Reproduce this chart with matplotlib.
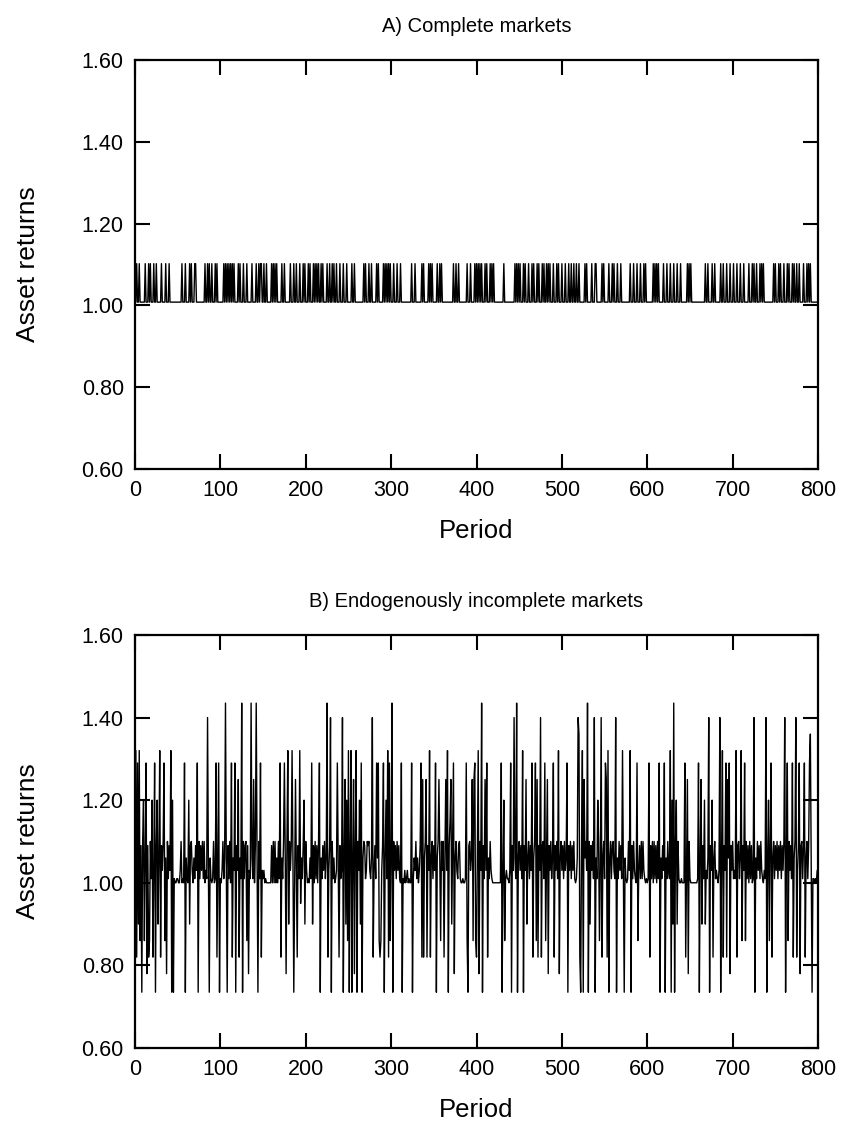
import numpy as np
import matplotlib
matplotlib.use("Agg")
import matplotlib.pyplot as plt

plt.rcParams['font.family'] = ['Liberation Sans', 'DejaVu Sans']

# Panel A: one character per period, 0 = low state, 1 = high state
complete_codes = (
    "0010010000 0010001010 0010010000 0100001000 1000000000 "
    "0000010001 0000101000 1100000000 0010010100 1000101000 "
    "0000101010 1010101000 0101000100 0100000100 0010010110 "
    "0100100000 1010101000 0010010000 0010001001 0001000101 "
    "0001010001 0101010010 1000010010 0101001000 1000100010 "
    "0000100100 0000000010 1000100100 0001010000 0101010101 "
    "0001000100 0100000000 0000100010 0000001010 0000101010 "
    "0000100101 0000000000 0001001001 0000000001 0001000010 "
    "1010101000 1010001010 1000000000 0010000000 0000010101 "
    "0100010100 0100010100 0101000101 0010101000 1000101000 "
    "1000100010 0100100100 1000000101 0000010001 1000000101 "
    "0000010001 0100010001 0000000000 1000100010 0010001010 "
    "0000000101 0101000001 0001000100 0100010001 0000000101 "
    "0100000000 0000000010 0100001001 0000001001 0001000100 "
    "0100010001 0001000001 0001010010 0010101000 0000000010 "
    "1000101000 1000101000 1010010010 0001000101 0100000000 0"
)
complete_levels = {"0": 1.008, "1": 1.102, "2": 1.0}

# Panel B: one character per period, mapped to return levels
incomplete_codes = (
    "0kcjekd4a5 hd3jb4cd51 hc2ja4he3k c425jd3b51 42kaha1001 "
    "10025010ja 310he45203 142ja51425 15021m2a31 01501jc3ja "
    "102513n2a4 150jc32ja4 2ic31na514 5d4b21n31i 04n3a51jc2 "
    "1201000000 4050503051 jc315j3b5k e524k3a1i2 c41kf314he "
    "5201031je4 051405ja31 42513nc24m a513012j3c 412ma3iehd "
    "ka4ka3ib4k a52heja354 12545213mc 241j3jdcd2 4ja3h1kcjd "
    "3na5241524 10ja102012 0100ja1325 13024jcic3 5ic42kc351 "
    "42ja35i3d5 25c3i2ka4g ie4jb35214 51001001jd a4523idijd "
    "c3kb52na41 i2jc315210 000000000j a2hd121102 ja42m31na3 "
    "5241ka42ie 35142jc35j dic42mc451 jd3ib42513 jc4251kb35 "
    "241523ja42 514251013m lca4kai352 na5e4251ma 31h5d2mc35 "
    "1jicka3514 521ma31524 1k2a310152 ka415210jd 2415152101 "
    "01jc415051 4051ja3142 ja31521kah ena4he5100 1000jc2ib5 "
    "1000000001 ja3ie41he2 13ma42hc35 12102ma3kc 42jci3jb42 "
    "5121kc4513 kd42jd5140 51401ma315 241521021m a3hd4jc351 "
    "4251425142 5ma3jd5241 jc35mc24jb 4514jc3514 jl2a110102 2"
)
incomplete_levels = {
    "a": 0.735, "b": 0.78, "c": 0.82, "d": 0.86, "e": 0.90, "f": 0.95,
    "0": 1.00, "1": 1.01, "2": 1.03, "3": 1.06, "4": 1.09, "5": 1.10,
    "g": 1.15, "h": 1.20, "i": 1.25, "j": 1.29, "k": 1.32, "l": 1.36,
    "m": 1.40, "n": 1.435,
}

titles = ["A) Complete markets", "B) Endogenously incomplete markets"]
x_ticks = [0, 100, 200, 300, 400, 500, 600, 700, 800]
y_ticks = [0.60, 0.80, 1.00, 1.20, 1.40, 1.60]


def decode(codes, levels):
    return np.array([levels[c] for c in codes.replace(" ", "")])


series = [decode(complete_codes, complete_levels),
          decode(incomplete_codes, incomplete_levels)]

fig = plt.figure(figsize=(8.41, 11.31), dpi=100)
boxes = [[0.1605, 0.5853, 0.8122, 0.3617],
         [0.1605, 0.0734, 0.8122, 0.3652]]

for box, title, y in zip(boxes, titles, series):
    ax = fig.add_axes(box)
    ax.plot(np.arange(len(y)), y, color="black", lw=1.0)
    ax.set_xlim(0, 800)
    ax.set_ylim(0.6, 1.6)
    ax.set_xticks(x_ticks)
    ax.set_yticks(y_ticks)
    ax.set_yticklabels([f"{v:.2f}" for v in y_ticks])
    ax.tick_params(direction="in", length=11, width=1.5, top=True, right=True,
                   labelsize=15.5, pad=8)
    for s in ax.spines.values():
        s.set_linewidth(1.6)
    ax.set_title(title, fontsize=14.5, pad=20)
    ax.set_xlabel("Period", fontsize=18.5, labelpad=13)
    ax.set_ylabel("Asset returns", fontsize=19, labelpad=30)

fig.savefig("out.png", dpi=100)
